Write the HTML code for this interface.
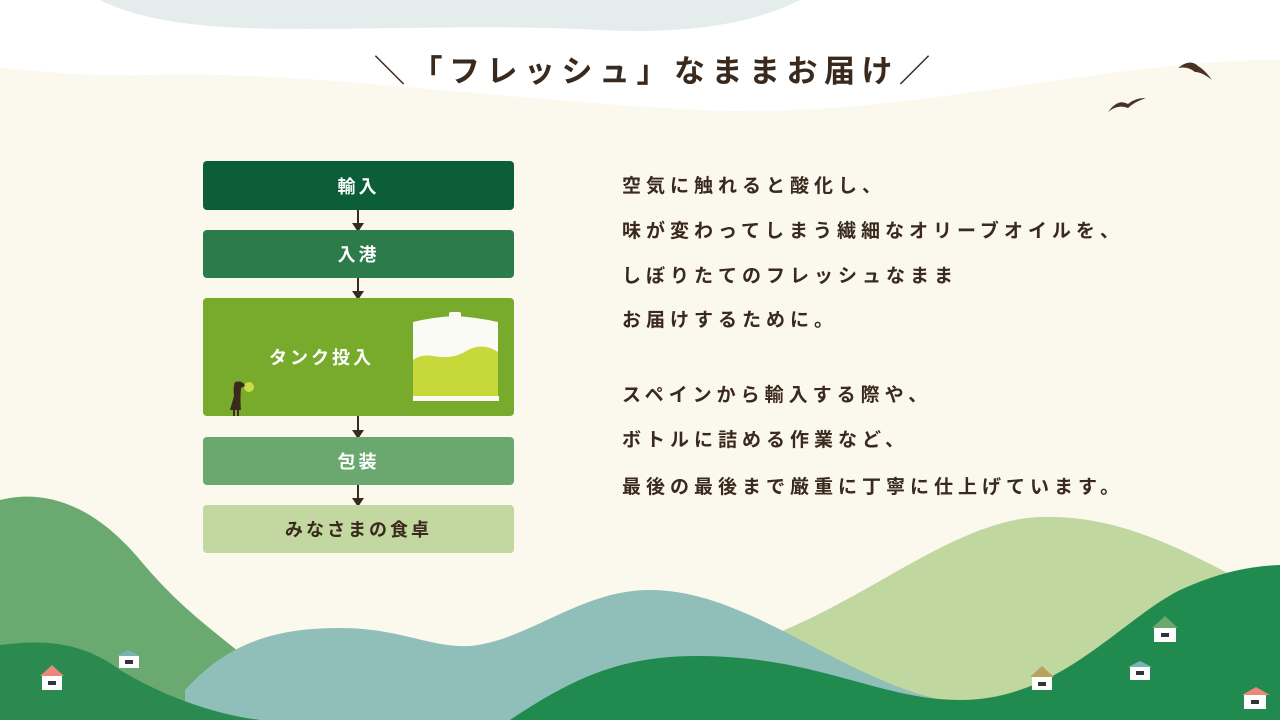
<!DOCTYPE html>
<html><head><meta charset="utf-8"><style>
*{margin:0;padding:0;box-sizing:border-box}
body{width:1280px;height:720px;overflow:hidden;background:#fbf8ee;position:relative;font-family:"Liberation Sans","Noto Sans CJK JP",sans-serif;color:#3a2a1e}
svg.bg{position:absolute;left:0;top:0}
.title{position:absolute;top:46px;left:374px;font-size:31px;font-weight:bold;letter-spacing:6.5px;white-space:nowrap;color:#3a2a1e}
.box{position:absolute;left:203px;width:311px;border-radius:4px;color:#fff;font-weight:bold;font-size:18px;letter-spacing:3px;display:flex;align-items:center;justify-content:center}
.arrow{position:absolute;left:357px;width:2px;background:#3a2a1e}
.arrow:after{content:"";position:absolute;left:-5px;bottom:-2px;border-left:6px solid transparent;border-right:6px solid transparent;border-top:9px solid #3a2a1e}
.txt{position:absolute;left:622px;font-size:19px;font-weight:bold;letter-spacing:5px;white-space:nowrap;line-height:1}
</style></head><body>
<svg class="bg" width="1280" height="720" viewBox="0 0 1280 720">
<path d="M0 0 H1280 V60 C1100 60 900 120 700 110 C500 100 300 70 150 75 C80 77 30 70 0 68Z" fill="#ffffff"/>
<path d="M100 0 H800 C760 20 700 35 600 30 C450 22 300 35 200 25 C150 20 120 10 100 0Z" fill="#e4ecec"/>
<path d="M0 500 C40 490 90 500 140 560 C190 620 230 640 270 680 L270 720 H0Z" fill="#6aa96f"/>
<path d="M780 632 C880 590 960 520 1040 517 C1130 514 1200 560 1280 600 V720 H780Z" fill="#c0d7a0"/>
<path d="M185 690 C230 640 280 628 340 628 C400 628 430 648 470 646 C530 640 580 590 650 590 C760 590 860 700 980 705 L980 720 H185Z" fill="#8fbfb8"/>
<path d="M0 645 C40 640 80 640 120 670 C170 700 220 715 260 720 H0Z" fill="#2a8a50"/>
<path d="M510 720 C570 680 620 655 700 656 C820 657 880 700 960 700 C1060 700 1120 620 1180 590 C1220 572 1250 566 1280 565 V720Z" fill="#218a4e"/>
<g>
<polygon points="40,676 52,665 64,676" fill="#e8897a"/><rect x="42" y="676" width="20" height="14" fill="#fff"/><rect x="48" y="681" width="8" height="4" fill="#333"/>
<polygon points="117,656 128,650 140,656" fill="#7bb3b5"/><rect x="119" y="656" width="20" height="12" fill="#fff"/><rect x="125" y="660" width="8" height="4" fill="#333"/>
<polygon points="1030,677 1042,666 1054,677" fill="#b9a35c"/><rect x="1032" y="677" width="20" height="13" fill="#fff"/><rect x="1038" y="682" width="8" height="4" fill="#333"/>
<polygon points="1128,667 1140,661 1152,667" fill="#7bb3b5"/><rect x="1130" y="667" width="20" height="13" fill="#fff"/><rect x="1136" y="671" width="8" height="4" fill="#333"/>
<polygon points="1152,628 1165,616 1178,628" fill="#6aa96f"/><rect x="1154" y="628" width="22" height="14" fill="#fff"/><rect x="1161" y="633" width="8" height="4" fill="#333"/>
<polygon points="1242,695 1256,687 1270,695" fill="#e8897a"/><rect x="1244" y="695" width="22" height="14" fill="#fff"/><rect x="1251" y="700" width="8" height="4" fill="#333"/>
</g>
<path d="M1178 68 Q1190 58 1198 66 Q1205 70 1212 80 Q1202 72 1195 72 Q1188 66 1178 68Z" fill="#4a3326"/>
<path d="M1108 112 Q1118 98 1128 104 Q1135 98 1146 98 Q1134 102 1128 108 Q1118 104 1108 112Z" fill="#4a3326"/>
</svg>
<div class="title">＼「フレッシュ」なままお届け／</div>
<div class="box" style="top:161px;height:49px;background:#0b5e37">輸入</div>
<div class="arrow" style="top:210px;height:20px"></div>
<div class="box" style="top:230px;height:48px;background:#2c7b4a">入港</div>
<div class="arrow" style="top:278px;height:20px"></div>
<div class="box" style="top:298px;height:118px;background:#78ab2c;justify-content:flex-start;padding-left:66px">タンク投入
<svg style="position:absolute;left:210px;top:14px" width="90" height="92" viewBox="0 0 90 92">
<rect x="0" y="10" width="85" height="78" fill="#c7d93a"/>
<path d="M0 10 Q20 5 42 4 Q62 5 85 10 V40 Q70 30 55 38 Q40 48 20 44 Q8 42 0 48Z" fill="#fbfbf6"/>
<rect x="36" y="0" width="12" height="6" rx="2" fill="#fbfbf6"/>
<rect x="0" y="84" width="86" height="5" fill="#fbfbf6"/>
</svg>
<svg style="position:absolute;left:22px;top:80px" width="30" height="38" viewBox="0 0 30 38">
<circle cx="24" cy="9" r="5" fill="#c9dd4a"/>
<path d="M10 4 Q18 2 20 8 L16 10 Q15 22 16 32 L5 32 L9 18 Q8 8 10 4Z" fill="#3a2a1e"/>
<rect x="8" y="31" width="2" height="7" fill="#3a2a1e"/><rect x="12" y="31" width="2" height="7" fill="#3a2a1e"/>
</svg></div>
<div class="arrow" style="top:416px;height:21px"></div>
<div class="box" style="top:437px;height:48px;background:#6aa870">包装</div>
<div class="arrow" style="top:485px;height:20px"></div>
<div class="box" style="top:505px;height:48px;background:#c3d7a0;color:#3a2a1e">みなさまの食卓</div>
<div class="txt" style="top:177px">空気に触れると酸化し、</div>
<div class="txt" style="top:222px">味が変わってしまう繊細なオリーブオイルを、</div>
<div class="txt" style="top:267px">しぼりたてのフレッシュなまま</div>
<div class="txt" style="top:311px">お届けするために。</div>
<div class="txt" style="top:386px">スペインから輸入する際や、</div>
<div class="txt" style="top:431px">ボトルに詰める作業など、</div>
<div class="txt" style="top:478px">最後の最後まで厳重に丁寧に仕上げています。</div>
</body></html>
